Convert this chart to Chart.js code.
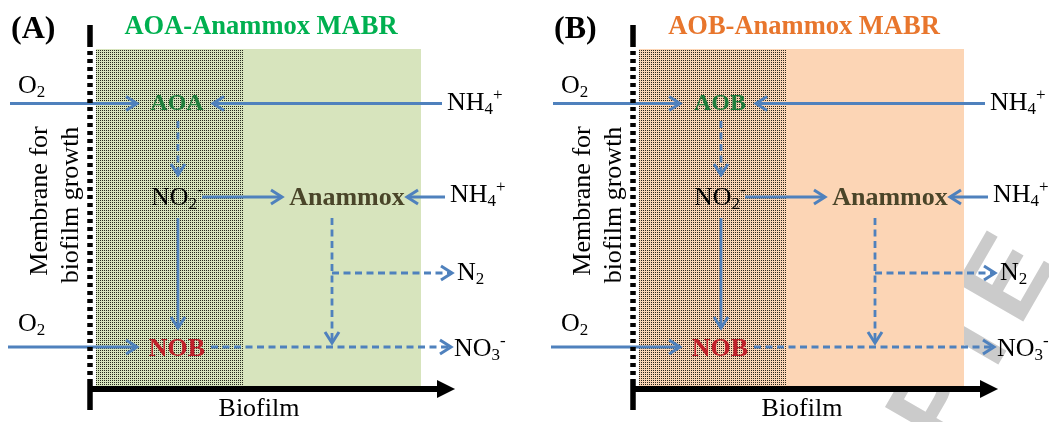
<!DOCTYPE html>
<html>
<head>
<meta charset="utf-8">
<script src="https://cdn.jsdelivr.net/npm/chart.js@4.4.1/dist/chart.umd.min.js"></script>
<style>
    html, body { margin: 0; padding: 0; background: #fff; overflow: hidden; }
    #wrap { position: relative; width: 1049px; height: 422px; }
    .panel { position: absolute; top: 0; height: 422px; }
    #panelA { left: 0; width: 543px; }
    #panelB { left: 543px; width: 506px; }
</style>
</head>
<body>
<div id="wrap">
    <div class="panel" id="panelA"><canvas id="chartA"></canvas></div>
    <div class="panel" id="panelB"><canvas id="chartB"></canvas></div>
</div>
<script>
// --- Diagram data (panel units: x = distance from the air side, y = level, top down) ---
const panelTags = ['(A)', '(B)'];
const panelTitles = ['AOA-Anammox MABR', 'AOB-Anammox MABR'];
const ammoniaOxidizers = ['AOA', 'AOB'];

// biofilm layers: aerobic (stippled) layer, then anoxic layer
const layerEdges = [96, 243, 421];
const layerSpan = [49, 386];

// membrane wall and biofilm depth axis
const membraneX = 90;
const membraneSpan = [25, 43, 383, 410];
const depthAxisX = [88, 455];
const depthAxisY = 389;

// substrate / product fluxes
const fluxFrom   = [[10, 103.5], [442, 103.5], [178, 121], [202, 197], [445, 197], [178, 218], [332, 218], [332, 273], [211, 347], [8, 347]];
const fluxTo     = [[137, 103.5], [213, 103.5], [178, 175], [282, 197], [407, 197], [178, 328], [332, 343], [452, 273], [451, 347], [137, 347]];
const fluxDashed = [false, false, true, false, false, false, true, true, true, false];

// labels: '_' = subscript, '^' = superscript, '{ox}' = ammonia oxidizer of the panel
const labelText = ['O_2', '{ox}', 'NH_4^+', 'NO_2^-', 'Anammox', 'NH_4^+', 'N_2', 'O_2', 'NOB', 'NO_3^-', 'Biofilm'];
const labelKind = ['species', 'organism', 'species', 'species', 'organism', 'species', 'species', 'species', 'organism', 'species', 'axis'];
const labelX    = [18, 177, 447, 151, 347, 450, 457, 18, 177, 454, 259];
const labelY    = [86, 104, 103, 198, 198, 195, 273, 324, 349, 349, 409];
const membraneLines = ['Membrane for', 'biofilm growth'];

// --- Styles ---
const SERIF = '"Liberation Serif", "Times New Roman", serif';
const BLUE = '#4f81bd';
const panelStyles = [
    { title: '#00b050', layer: '#d7e4bd', watermark: false },
    { title: '#e8762d', layer: '#fcd5b5', watermark: true }
];
const organismColors = { AOA: '#1f7d3c', AOB: '#1f7d3c', Anammox: '#4a4529', NOB: '#c0202a' };

function stipple(ctx, base) {
    const c = document.createElement('canvas');
    c.width = 4; c.height = 4;
    const g = c.getContext('2d');
    g.fillStyle = base;
    g.fillRect(0, 0, 4, 4);
    g.fillStyle = 'rgba(30, 30, 20, 0.95)';
    [[0, 0], [2, 0], [0, 2], [2, 2]].forEach(([a, b]) => g.fillRect(a, b, 1, 1));
    return ctx.createPattern(c, 'repeat');
}

// split 'NH_4^+' into runs of normal / sub / sup text
function parseRich(str) {
    const parts = [];
    let buf = '';
    for (let i = 0; i < str.length; i++) {
        const ch = str[i];
        if ((ch === '_' || ch === '^') && i + 1 < str.length) {
            if (buf) { parts.push({ t: buf, k: 'n' }); buf = ''; }
            parts.push({ t: str[i + 1], k: ch === '_' ? 'sub' : 'sup' });
            i++;
        } else {
            buf += ch;
        }
    }
    if (buf) parts.push({ t: buf, k: 'n' });
    return parts;
}

function drawRich(ctx, str, x, y, size, weight, align) {
    const parts = parseRich(str);
    const small = Math.round(size * 0.65);
    const fontFor = p => `${weight} ${p.k === 'n' ? size : small}px ${SERIF}`;
    let total = 0;
    parts.forEach(p => { ctx.font = fontFor(p); p.w = ctx.measureText(p.t).width; total += p.w; });
    let cx = align === 'center' ? x - total / 2 : x;
    ctx.textAlign = 'left';
    ctx.textBaseline = 'middle';
    parts.forEach(p => {
        ctx.font = fontFor(p);
        const dy = p.k === 'sub' ? size * 0.26 : p.k === 'sup' ? -size * 0.3 : 0;
        ctx.fillText(p.t, cx, y + dy);
        cx += p.w;
    });
}

const diagramPlugin = {
    id: 'diagram',
    beforeDatasetsDraw(chart) {
        const o = chart.options.plugins.diagram;
        const { ctx, scales: { x, y } } = chart;
        ctx.save();

        if (o.watermark) {
            ctx.translate(x.getPixelForValue(405), y.getPixelForValue(452));
            ctx.rotate(-Math.PI / 3);
            ctx.fillStyle = '#cbcbcb';
            ctx.font = 'bold 112px "Liberation Sans", Arial, sans-serif';
            ctx.textBaseline = 'alphabetic';
            ctx.fillText('PTE', 0, 0);
            ctx.setTransform(1, 0, 0, 1, 0, 0);
        }

        const top = y.getPixelForValue(layerSpan[0]);
        const bot = y.getPixelForValue(layerSpan[1]);
        const x0 = x.getPixelForValue(layerEdges[0]);
        const x1 = x.getPixelForValue(layerEdges[1]);
        const x2 = x.getPixelForValue(layerEdges[2]);
        ctx.fillStyle = o.layer;
        ctx.fillRect(x0, top, x2 - x0, bot - top);
        ctx.fillStyle = stipple(ctx, o.layer);
        ctx.fillRect(x0, top, x1 - x0, bot - top);
        ctx.restore();
    },
    afterDatasetsDraw(chart) {
        const o = chart.options.plugins.diagram;
        const { ctx, scales: { x, y } } = chart;
        ctx.save();

        // arrow heads
        chart.data.datasets.forEach((ds, i) => {
            if (!ds.head) return;
            const pts = chart.getDatasetMeta(i).data;
            const a = pts[pts.length - 2], b = pts[pts.length - 1];
            const ang = Math.atan2(b.y - a.y, b.x - a.x);
            const c = Math.cos(ang), s = Math.sin(ang);
            if (ds.head === 'open') {
                const L = 11, W = 7;
                ctx.strokeStyle = ds.borderColor;
                ctx.lineWidth = 3;
                ctx.setLineDash([]);
                ctx.lineJoin = 'miter';
                ctx.beginPath();
                ctx.moveTo(b.x - L * c + W * s, b.y - L * s - W * c);
                ctx.lineTo(b.x, b.y);
                ctx.lineTo(b.x - L * c - W * s, b.y - L * s + W * c);
                ctx.stroke();
            } else {
                const L = 18, W = 9;
                ctx.fillStyle = ds.borderColor;
                ctx.beginPath();
                ctx.moveTo(b.x, b.y);
                ctx.lineTo(b.x - L * c + W * s, b.y - L * s - W * c);
                ctx.lineTo(b.x - L * c - W * s, b.y - L * s + W * c);
                ctx.closePath();
                ctx.fill();
            }
        });

        // panel tag and title
        ctx.fillStyle = '#000';
        ctx.font = `bold 32px ${SERIF}`;
        ctx.textAlign = 'left';
        ctx.textBaseline = 'middle';
        ctx.fillText(o.tag, x.getPixelForValue(11), y.getPixelForValue(30));
        ctx.fillStyle = o.titleColor;
        ctx.font = `bold 26.5px ${SERIF}`;
        ctx.textAlign = 'center';
        ctx.fillText(o.title, x.getPixelForValue(261), y.getPixelForValue(27));

        // flux labels
        labelText.forEach((raw, i) => {
            const txt = raw === '{ox}' ? o.oxidizer : raw;
            const px = x.getPixelForValue(labelX[i]);
            const py = y.getPixelForValue(labelY[i]);
            if (labelKind[i] === 'organism') {
                ctx.fillStyle = organismColors[txt];
                drawRich(ctx, txt, px, py, txt === 'AOA' || txt === 'AOB' ? 24 : 26, 'bold', 'center');
            } else {
                ctx.fillStyle = '#000';
                drawRich(ctx, txt, px, py, 26, 'normal', labelKind[i] === 'axis' ? 'center' : 'left');
            }
        });

        // membrane caption, rotated
        ctx.fillStyle = '#000';
        ctx.font = `26px ${SERIF}`;
        ctx.textAlign = 'center';
        ctx.textBaseline = 'middle';
        [[40, 201], [71, 205]].forEach(([lx, ly], i) => {
            ctx.save();
            ctx.translate(x.getPixelForValue(lx), y.getPixelForValue(ly));
            ctx.rotate(-Math.PI / 2);
            ctx.fillText(membraneLines[i], 0, 0);
            ctx.restore();
        });
        ctx.restore();
    }
};

function segment(p0, p1, color, width, dash, head) {
    return {
        data: [{ x: p0[0], y: p0[1] }, { x: p1[0], y: p1[1] }],
        showLine: true,
        borderColor: color,
        borderWidth: width,
        borderDash: dash,
        borderCapStyle: 'butt',
        pointRadius: 0,
        fill: false,
        head: head
    };
}

function buildDatasets() {
    const sets = [];
    // membrane wall: solid ends, perforated middle
    sets.push(segment([membraneX, membraneSpan[0]], [membraneX, membraneSpan[1]], '#000', 5.5, [], null));
    sets.push(segment([membraneX, membraneSpan[1]], [membraneX, membraneSpan[2]], '#000', 5.5, [4, 4], null));
    sets.push(segment([membraneX, membraneSpan[2]], [membraneX, membraneSpan[3]], '#000', 5.5, [], null));
    // biofilm depth axis
    sets.push(segment([depthAxisX[0], depthAxisY], [depthAxisX[1] - 16, depthAxisY], '#000', 6, [], null));
    sets.push(segment([depthAxisX[1] - 17, depthAxisY], [depthAxisX[1], depthAxisY], '#000', 0.1, [], 'solid'));
    // fluxes
    fluxFrom.forEach((p0, i) => {
        sets.push(segment(p0, fluxTo[i], BLUE, 2.8, fluxDashed[i] ? [7, 4.5] : [], 'open'));
    });
    return sets;
}

function makeChart(id, idx, width) {
    return new Chart(document.getElementById(id), {
        type: 'scatter',
        data: { datasets: buildDatasets() },
        options: {
            responsive: true,
            maintainAspectRatio: false,
            animation: false,
            events: [],
            layout: { padding: 0 },
            plugins: {
                legend: { display: false },
                tooltip: { enabled: false },
                diagram: {
                    tag: panelTags[idx],
                    title: panelTitles[idx],
                    titleColor: panelStyles[idx].title,
                    layer: panelStyles[idx].layer,
                    oxidizer: ammoniaOxidizers[idx],
                    watermark: panelStyles[idx].watermark
                }
            },
            scales: {
                x: { type: 'linear', min: 0, max: width, display: false },
                y: { type: 'linear', min: 0, max: 422, reverse: true, display: false }
            }
        },
        plugins: [diagramPlugin]
    });
}

makeChart('chartA', 0, 543);
makeChart('chartB', 1, 506);
</script>
</body>
</html>
